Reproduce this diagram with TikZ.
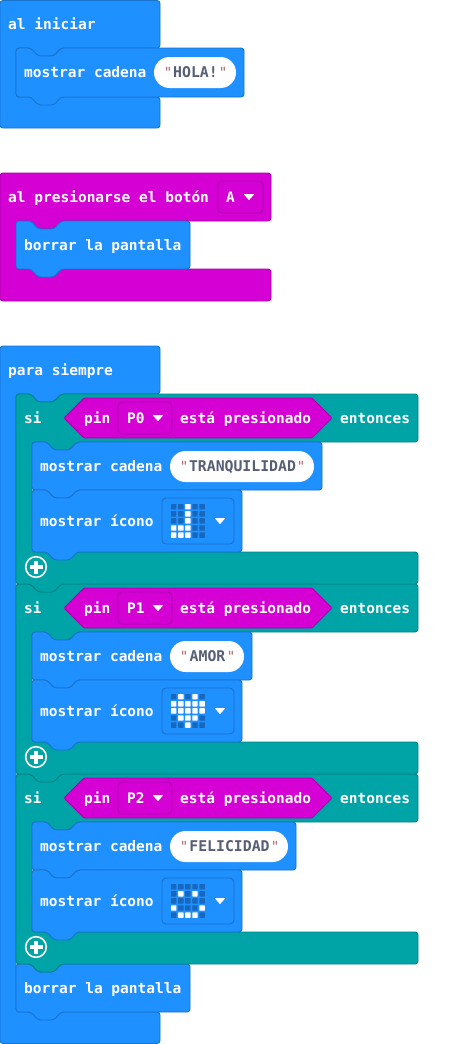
\documentclass[tikz,border=0pt]{standalone}
\usepackage{fontspec}
\newfontfamily\blockfont{DejaVu Sans Mono}
\definecolor{blu}{HTML}{1E90FF}
\definecolor{bluD}{HTML}{1873CC}
\definecolor{led}{HTML}{1768BC}
\definecolor{tea}{HTML}{00A4A6}
\definecolor{teaD}{HTML}{008385}
\definecolor{mag}{HTML}{D400D4}
\definecolor{magD}{HTML}{AA00AA}
\definecolor{strtxt}{HTML}{575E75}
\definecolor{quot}{HTML}{B5636B}
\tikzset{
  blue block/.style={fill=blu,draw=bluD,line width=0.9pt,line join=round,rounded corners=3pt},
  teal block/.style={fill=tea,draw=teaD,line width=0.9pt,line join=round,rounded corners=3pt},
  mag block/.style={fill=mag,draw=magD,line width=0.9pt,line join=round,rounded corners=3pt},
  hat blue/.style={fill=blu,draw=bluD,line width=0.9pt,rounded corners=3pt},
  label/.style={anchor=base west,inner sep=0pt,text=white,font=\blockfont\bfseries\fontsize{14.5}{16}\selectfont},
  strlabel/.style={anchor=base,inner sep=0pt,text=strtxt,font=\blockfont\bfseries\fontsize{14.8}{16}\selectfont},
  quotemark/.style={anchor=base,inner sep=0pt,text=quot,font=\blockfont\fontsize{14}{16}\selectfont},
  pill/.style={fill=white,rounded corners=15.5pt},
  iconbox/.style={fill=blu,draw=bluD,line width=0.9pt,rounded corners=4pt},
  ddmag/.style={fill=mag,draw=magD,line width=0.9pt,rounded corners=4pt},
  tri/.style={fill=white,draw=white,line width=0.8pt,line join=round},
}
% statement block: x1 y1 x2 y2
\newcommand{\stmt}[5]{\draw[#5] (#1,#2) -- ++(15,0) -- ++(7,8) -- ++(16,0) -- ++(7,-8) -- (#3,#2) -- (#3,#4) -- ({#1+45},#4) -- ++(-7,8) -- ++(-16,0) -- ++(-7,-8) -- (#1,#4) -- cycle;}
% C block: x1 x2 ytop yin1 yin2 ybot style
\newcommand{\cblock}[8]{\draw[#8] (#1,#3) -- (#2,#3) -- (#2,#4) -- ({#1+61},#4) -- ++(-8,8) -- ++(-16,0) -- ++(-7,-8) -- ({#1+16},#4) -- ({#1+16},#5) -- (#2,#5) -- (#2,#6) -- (#1,#6) -- cycle;}
% C block with notches: x1 x2 ytop yin1 yin2 ybot style
\newcommand{\cnotch}[7]{\draw[#7] (#1,#3) -- ++(15,0) -- ++(7,8) -- ++(16,0) -- ++(7,-8) -- (#2,#3) -- (#2,#4) -- ({#1+61},#4) -- ++(-8,8) -- ++(-16,0) -- ++(-7,-8) -- ({#1+16},#4) -- ({#1+16},#5) -- (#2,#5) -- (#2,#6) -- ({#1+45},#6) -- ++(-7,8) -- ++(-16,0) -- ++(-7,-8) -- (#1,#6) -- cycle;}
% string field: name x1 x2 ycentre text
\newcommand{\strfield}[5]{
  \fill[pill] (#2,{#4-15.5}) rectangle (#3,{#4+15.5});
  \node[quotemark] (#1ql) at ({#2+14},{#4+5}) {"};
  \node[quotemark] (#1qr) at ({#3-13},{#4+5}) {"};
  \node[strlabel] (#1) at ({(#2+#3)/2+0.5},{#4+5}) {#5};
}
\newcommand{\tridown}[2]{\draw[tri] ({#1-4.5},{#2-2.5}) -- ({#1+4.5},{#2-2.5}) -- (#1,{#2+2.5}) -- cycle;}
% icon: ycentre pattern
\newcommand{\ledicon}[2]{
  \draw[iconbox] (162,{#1-23}) rectangle (234,{#1+23});
  \foreach \v [count=\i from 0] in {#2}{
    \pgfmathtruncatemacro{\cc}{mod(\i,5)}
    \pgfmathtruncatemacro{\rr}{int(\i/5)}
    \ifnum\v=1\def\ledc{white}\else\def\ledc{led}\fi
    \fill[\ledc,rounded corners=0.5pt] ({171+7.1*\cc},{#1-17+7.1*\rr}) rectangle ++(5.4,5.4);
  }
  \tridown{220}{#1}
}
% boolean: ycentre, pin name, id
\newcommand{\pinbool}[3]{
  \draw[mag block,rounded corners=1pt] (64,#1) -- (84,{#1-20}) -- (312,{#1-20}) -- (332,#1) -- (312,{#1+20}) -- (84,{#1+20}) -- cycle;
  \node[label] (pin#3) at (84,{#1+5}) {pin};
  \draw[ddmag] (118,{#1-16}) rectangle (172,{#1+16});
  \node[label] (pname#3) at (127,{#1+5}) {#2};
  \tridown{158}{#1}
  \node[label] (pres#3) at (180,{#1+5}) {está presionado};
  \node[label] (ent#3) at (340,{#1+5}) {entonces};
  \node[label] (si#3) at (24,{#1+5}) {si};
}
\newcommand{\plusbtn}[1]{
  \draw[white,line width=1.6pt] (36,#1) circle (10.3);
  \draw[white,line width=3.6pt] (29.5,#1) -- (42.5,#1);
  \draw[white,line width=3.6pt] (36,{#1-6.5}) -- (36,{#1+6.5});
}
% complete "si" block: ytop, pin, id, string, pill right, child right, icon
\newcommand{\siblock}[7]{
  \pgfmathsetmacro{\ya}{#1+48}
  \pgfmathsetmacro{\yb}{#1+158}
  \pgfmathsetmacro{\yc}{#1+190}
  \cnotch{16}{418}{#1}{\ya}{\yb}{\yc}{teal block}
  \pinbool{#1+24}{#2}{#3}
  \stmt{32}{\ya}{#6}{#1+96}{blue block}
  \node[label] (mc#3) at (40,{#1+77}) {mostrar cadena};
  \strfield{s#3}{170}{#5}{#1+72.5}{#4}
  \stmt{32}{#1+96}{242}{\yb}{blue block}
  \node[label] (mi#3) at (40,{#1+132}) {mostrar ícono};
  \ledicon{#1+127}{#7}
  \plusbtn{#1+173}
}
\begin{document}
\begin{tikzpicture}[x=1pt,y=-1pt]
\useasboundingbox (0,0) rectangle (470,1044);
% al iniciar
\cblock{0}{160}{0.5}{48}{97}{128}{}{hat blue}
\node[label] (t1) at (8,29) {al iniciar};
\stmt{16}{48}{244}{97}{blue block}
\node[label] (t2) at (24,77) {mostrar cadena};
\strfield{hola}{154}{236}{72.5}{HOLA!}
% boton
\cblock{0}{271}{173}{221}{269}{301}{}{mag block}
\node[label] (t3) at (8,202) {al presionarse el botón};
\draw[ddmag] (218,181) rectangle (263,213);
\node[label] (t4) at (226,202) {A};
\tridown{249}{197}
\stmt{16}{221}{190}{269}{blue block}
\node[label] (t5) at (24,250) {borrar la pantalla};
% para siempre
\cblock{0}{160}{346}{394}{1012}{1043.5}{}{hat blue}
\node[label] (t6) at (8,375) {para siempre};
\stmt{16}{964}{190}{1012}{blue block}
\node[label] (t7) at (24,993) {borrar la pantalla};
\siblock{774}{P2}{c}{FELICIDAD}{288}{296}{0,0,0,0,0, 0,1,0,1,0, 0,0,0,0,0, 1,0,0,0,1, 0,1,1,1,0}
\siblock{584}{P1}{b}{AMOR}{244}{252}{0,1,0,1,0, 1,1,1,1,1, 1,1,1,1,1, 0,1,1,1,0, 0,0,1,0,0}
\siblock{394}{P0}{a}{TRANQUILIDAD}{314}{322}{0,0,1,0,0, 0,0,1,0,0, 0,0,1,0,0, 1,1,1,0,0, 1,1,1,0,0}
\end{tikzpicture}
\end{document}
